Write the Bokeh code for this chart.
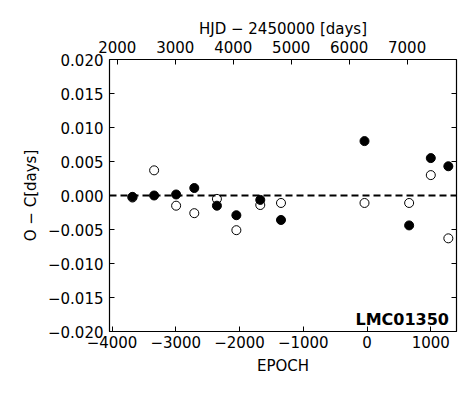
from bokeh.plotting import figure
from bokeh.models import (Range1d, LinearAxis, FixedTicker, CustomJSTickFormatter,
                          Span, Label, ColumnDataSource)
from bokeh.embed import file_html
from bokeh.resources import INLINE

# ---- data ----
epoch = [-3680, -3340, -2995, -2710, -2355, -2050, -1675, -1350, -40, 660, 1000, 1275]
oc_primary = [-0.0002, 0.0000, 0.00015, 0.0011, -0.0015, -0.0029, -0.00065, -0.0036,
              0.0080, -0.0044, 0.0055, 0.0043]
oc_secondary = [-0.0003, 0.0037, -0.0015, -0.0026, -0.0005, -0.0051, -0.0014, -0.0011,
                -0.0011, -0.0011, 0.0030, -0.0063]
x_ticks = [-4000, -3000, -2000, -1000, 0, 1000]
y_ticks = [-0.020, -0.015, -0.010, -0.005, 0.0, 0.005, 0.010, 0.015, 0.020]
hjd_ticks = [2000, 3000, 4000, 5000, 6000, 7000, 8000]
star_name = "LMC01350"
period = 1.0999
hjd0 = 6309.0
x_lo, x_hi = -4040, 1403

FONT = "DejaVu Sans"

p = figure(width=466, height=387, output_backend="svg", toolbar_location=None,
           x_range=Range1d(x_lo, x_hi), y_range=Range1d(-0.020, 0.020),
           min_border_left=109, min_border_right=10, min_border_top=59,
           min_border_bottom=56)
p.grid.visible = False
p.outline_line_color = "black"
p.outline_line_width = 1.2
p.background_fill_color = "white"
p.border_fill_color = "white"

p.extra_x_ranges = {"hjd": Range1d(hjd0 + period * x_lo, hjd0 + period * x_hi)}

minus_fmt = lambda d: CustomJSTickFormatter(code=(
    "var s = Math.abs(tick).toFixed(%d); return (tick < -1e-9 ? '\\u2212' : '') + s;" % d))


def style_axis(ax):
    ax.major_tick_in = 5
    ax.major_tick_out = 0
    ax.minor_tick_in = 0
    ax.minor_tick_out = 0
    ax.axis_line_color = None
    ax.major_tick_line_color = "black"
    ax.major_label_text_font = FONT
    ax.major_label_text_font_size = "15px"
    ax.major_label_text_color = "black"
    ax.axis_label_text_font = FONT
    ax.axis_label_text_font_size = "15px"
    ax.axis_label_text_font_style = "normal"
    ax.axis_label_text_color = "black"


xa = p.xaxis[0]
style_axis(xa)
xa.ticker = FixedTicker(ticks=x_ticks)
xa.formatter = minus_fmt(0)
xa.axis_label = "EPOCH"
xa.major_label_standoff = 4
xa.axis_label_standoff = 6

ya = p.yaxis[0]
style_axis(ya)
ya.ticker = FixedTicker(ticks=y_ticks)
ya.formatter = minus_fmt(3)
ya.axis_label = "O − C[days]"
ya.major_label_standoff = 6
ya.axis_label_standoff = 5

top = LinearAxis(x_range_name="hjd", axis_label="HJD − 2450000 [days]")
style_axis(top)
top.ticker = FixedTicker(ticks=hjd_ticks)
top.major_label_standoff = 7
top.axis_label_standoff = 0
p.add_layout(top, "above")

right = LinearAxis()
style_axis(right)
right.ticker = FixedTicker(ticks=y_ticks)
right.formatter = CustomJSTickFormatter(code="return '';")
right.major_label_standoff = 0
p.add_layout(right, "right")

p.add_layout(Span(location=0, dimension="width", line_color="black",
                  line_width=2, line_dash="7 4"))

src = ColumnDataSource(dict(epoch=epoch, p=oc_primary, s=oc_secondary))
p.scatter("epoch", "s", source=src, size=9, fill_color="white",
          line_color="black", line_width=1)
p.scatter("epoch", "p", source=src, size=9, fill_color="black",
          line_color="black", line_width=1)

p.add_layout(Label(x=1285, y=-0.0182, text=star_name, text_align="right",
                   text_baseline="alphabetic", text_font=FONT,
                   text_font_size="16px", text_font_style="bold",
                   text_color="black"))

open("out.html", "w").write(file_html(p, INLINE))
